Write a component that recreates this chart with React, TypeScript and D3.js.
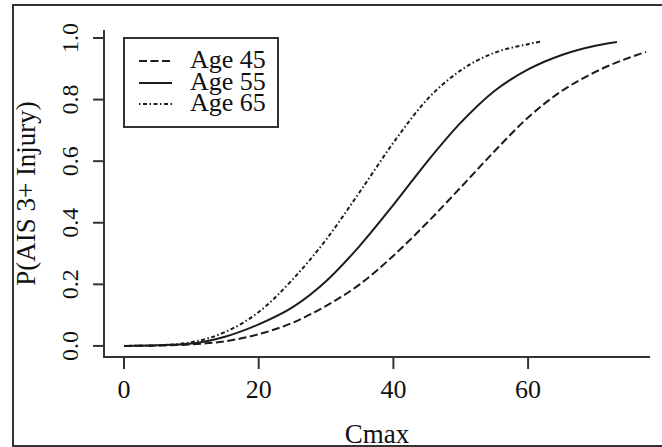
import React from "react";
import * as d3 from "d3";

const xTicks = [0, 20, 40, 60];
const yTicks = [0, 0.2, 0.4, 0.6, 0.8, 1.0];

const age45X = [0, 5, 10, 15, 20, 25, 30, 35, 40, 45, 50, 55, 60, 65, 70, 75, 77.5];
const age45Y = [0, 0.001, 0.005, 0.015, 0.038, 0.075, 0.13, 0.2, 0.293, 0.4, 0.515, 0.632, 0.742, 0.828, 0.89, 0.936, 0.955];

const age55X = [0, 5, 10, 15, 20, 25, 30, 35, 40, 45, 50, 55, 60, 65, 70, 73.2];
const age55Y = [0, 0.002, 0.008, 0.03, 0.07, 0.125, 0.21, 0.325, 0.458, 0.598, 0.725, 0.828, 0.898, 0.945, 0.975, 0.987];

const age65X = [0, 5, 10, 15, 20, 25, 30, 35, 40, 45, 50, 55, 60, 61.8];
const age65Y = [0, 0.002, 0.012, 0.045, 0.11, 0.215, 0.345, 0.5, 0.66, 0.8, 0.895, 0.952, 0.98, 0.988];

const seriesNames = ["Age 45", "Age 55", "Age 65"];

const FONT = "'Liberation Serif', 'DejaVu Serif', serif";
const LINE = "#1c1c1c";
const AXIS = "#333";

export default function App() {
  const x = d3.scaleLinear().domain([-2.97, 78.1]).range([104, 650]);
  const y = d3.scaleLinear().domain([-0.036, 1.026]).range([357, 30]);
  const line = d3
    .line<[number, number]>()
    .x((d) => x(d[0]))
    .y((d) => y(d[1]))
    .curve(d3.curveMonotoneX);

  const series = [
    { name: seriesNames[0], xs: age45X, ys: age45Y, dash: "8,3.5" },
    { name: seriesNames[1], xs: age55X, ys: age55Y, dash: "none" },
    { name: seriesNames[2], xs: age65X, ys: age65Y, dash: "1.5,2.5,4,2.5" },
  ];

  const legendRowY = [61, 83, 104];

  return (
    <svg
      width={662}
      height={447}
      style={{ position: "absolute", left: 0, top: 0, background: "#fff" }}
      fontFamily={FONT}
    >
      <rect x={0} y={0} width={662} height={447} fill="#fff" />
      {/* outer frame */}
      <rect x={13} y={5} width={700} height={441} fill="none" stroke={AXIS} strokeWidth={2} />

      {/* axes (L-shaped) */}
      <path d={`M${x.range()[0]},${y.range()[1]}V${y.range()[0]}H${x.range()[1]}`} fill="none" stroke={AXIS} strokeWidth={2} />

      {/* x ticks */}
      {xTicks.map((t) => (
        <g key={`xt${t}`}>
          <line x1={x(t)} x2={x(t)} y1={358} y2={369} stroke={AXIS} strokeWidth={2} />
          <text x={x(t)} y={398} fontSize={26} textAnchor="middle" fill="#111">
            {t}
          </text>
        </g>
      ))}

      {/* y ticks */}
      {yTicks.map((t) => (
        <g key={`yt${t}`}>
          <line x1={93} x2={104} y1={y(t)} y2={y(t)} stroke={AXIS} strokeWidth={2} />
          <text
            transform={`translate(78,${y(t)}) rotate(-90)`}
            fontSize={24}
            textAnchor="middle"
            fill="#111"
          >
            {t.toFixed(1)}
          </text>
        </g>
      ))}

      {/* axis titles */}
      <text x={377} y={443} fontSize={27} textAnchor="middle" fill="#111">
        Cmax
      </text>
      <text
        transform={`translate(35,${(y.range()[0] + y.range()[1]) / 2}) rotate(-90)`}
        fontSize={27}
        textAnchor="middle"
        fill="#111"
      >
        P(AIS 3+ Injury)
      </text>

      {/* curves */}
      {series.map((s) => (
        <path
          key={s.name}
          d={line(s.xs.map((v, i) => [v, s.ys[i]] as [number, number])) || ""}
          fill="none"
          stroke={LINE}
          strokeWidth={2}
          strokeDasharray={s.dash}
        />
      ))}

      {/* legend */}
      <rect x={124} y={38} width={154} height={89} fill="#fff" stroke={AXIS} strokeWidth={2} />
      {series.map((s, i) => (
        <g key={`lg${s.name}`}>
          <line
            x1={139}
            x2={172}
            y1={legendRowY[i]}
            y2={legendRowY[i]}
            stroke={LINE}
            strokeWidth={2}
            strokeDasharray={s.dash}
          />
          <text x={190} y={legendRowY[i] + 7} fontSize={26} fill="#111">
            {s.name}
          </text>
        </g>
      ))}
    </svg>
  );
}
